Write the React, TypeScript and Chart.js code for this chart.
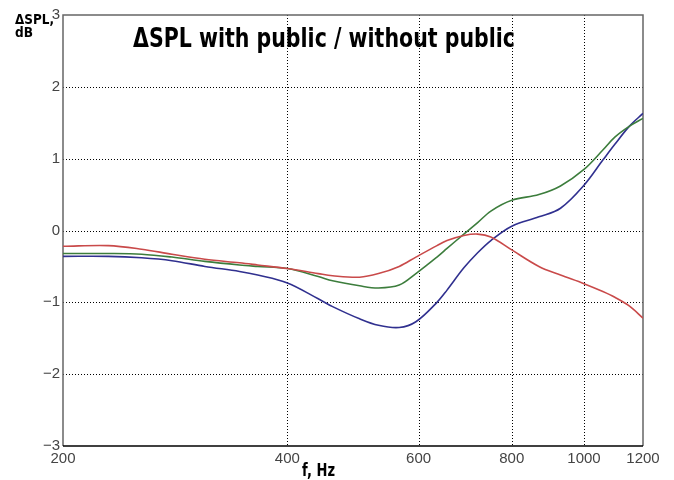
import React, { useEffect, useRef } from "react";
import { Chart, registerables } from "chart.js";

Chart.register(...registerables);

const freqs = [200, 230, 255, 280, 310, 345, 365, 400, 440, 460, 500, 530, 565, 595, 635, 655, 690, 720, 750, 800, 870, 930, 1000, 1060, 1100, 1150, 1200];
const blueValues = [-0.36, -0.36, -0.38, -0.42, -0.5, -0.57, -0.62, -0.73, -0.95, -1.06, -1.23, -1.32, -1.35, -1.27, -1.0, -0.83, -0.52, -0.31, -0.14, 0.06, 0.19, 0.31, 0.63, 0.98, 1.2, 1.45, 1.63];
const greenValues = [-0.32, -0.32, -0.33, -0.37, -0.43, -0.48, -0.5, -0.53, -0.64, -0.7, -0.77, -0.8, -0.76, -0.6, -0.37, -0.25, -0.05, 0.11, 0.27, 0.42, 0.5, 0.62, 0.85, 1.12, 1.3, 1.45, 1.56];
const redValues = [-0.22, -0.21, -0.26, -0.33, -0.4, -0.45, -0.48, -0.53, -0.6, -0.63, -0.65, -0.6, -0.5, -0.37, -0.21, -0.14, -0.07, -0.05, -0.09, -0.27, -0.5, -0.62, -0.74, -0.85, -0.93, -1.05, -1.22];
const xTicks = [200, 400, 600, 800, 1000, 1200];
const yTicks = [-3, -2, -1, 0, 1, 2, 3];

const titleText = "\u0394SPL with public / without public";
const yTitle1 = "\u0394SPL,";
const yTitle2 = "dB";
const xTitle = "f, Hz";

function fitText(ctx: CanvasRenderingContext2D, text: string, x: number, y: number, width: number, font: string) {
  ctx.save();
  ctx.font = font;
  ctx.fillStyle = "#000";
  ctx.textBaseline = "alphabetic";
  ctx.textAlign = "left";
  const w = ctx.measureText(text).width;
  ctx.translate(x, y);
  ctx.scale(width / w, 1);
  ctx.fillText(text, 0, 0);
  ctx.restore();
}

const decorPlugin = {
  id: "decor",
  beforeDatasetsDraw(chart: any) {
    const { ctx, chartArea } = chart;
    const xs = chart.scales.x;
    const ys = chart.scales.y;
    ctx.save();
    ctx.strokeStyle = "#000";
    ctx.lineWidth = 1;
    ctx.setLineDash([1, 2]);
    xTicks.slice(1, -1).forEach((v) => {
      const px = Math.round(xs.getPixelForValue(v)) + 0.5;
      ctx.beginPath();
      ctx.moveTo(px, chartArea.top);
      ctx.lineTo(px, chartArea.bottom);
      ctx.stroke();
    });
    yTicks.slice(1, -1).forEach((v) => {
      const py = Math.round(ys.getPixelForValue(v)) + 0.5;
      ctx.beginPath();
      ctx.moveTo(chartArea.left, py);
      ctx.lineTo(chartArea.right, py);
      ctx.stroke();
    });
    ctx.setLineDash([]);
    ctx.lineWidth = 1.5;
    ctx.strokeStyle = "#666";
    ctx.beginPath();
    ctx.moveTo(chartArea.left, chartArea.bottom);
    ctx.lineTo(chartArea.left, chartArea.top);
    ctx.lineTo(chartArea.right, chartArea.top);
    ctx.lineTo(chartArea.right, chartArea.bottom);
    ctx.stroke();
    ctx.strokeStyle = "#000";
    ctx.beginPath();
    ctx.moveTo(chartArea.left, chartArea.bottom);
    ctx.lineTo(chartArea.right, chartArea.bottom);
    ctx.stroke();
    ctx.restore();
  },
  afterDraw(chart: any) {
    const { ctx } = chart;
    const f = "'DejaVu Sans', 'Liberation Sans', sans-serif";
    fitText(ctx, titleText, 133, 47, 382, `bold 26px ${f}`);
    fitText(ctx, yTitle1, 15, 24, 39, `bold 14px ${f}`);
    fitText(ctx, yTitle2, 15, 37, 18, `bold 14px ${f}`);
    fitText(ctx, xTitle, 302, 476, 33, `bold 18px ${f}`);
  },
};

export default function App() {
  const ref = useRef<HTMLCanvasElement | null>(null);
  useEffect(() => {
    document.body.style.margin = "0";
    const canvas = ref.current!;
    const mk = (label: string, vals: number[], color: string) => ({
      label,
      data: freqs.map((f, i) => ({ x: f, y: vals[i] })),
      borderColor: color,
      backgroundColor: color,
      borderWidth: 1.6,
      pointRadius: 0,
      tension: 0.35,
      fill: false,
    });
    const chart = new Chart(canvas, {
      type: "line",
      data: {
        datasets: [
          mk("red", redValues, "#c94a4a"),
          mk("green", greenValues, "#3c7d3c"),
          mk("blue", blueValues, "#30308f"),
        ],
      },
      plugins: [decorPlugin],
      options: {
        animation: false,
        responsive: false,
        devicePixelRatio: 1,
        layout: { padding: { top: 15, right: 31, left: 0, bottom: 0 } },
        plugins: { legend: { display: false }, tooltip: { enabled: false }, title: { display: false } },
        scales: {
          x: {
            type: "logarithmic",
            min: 200,
            max: 1200,
            afterBuildTicks: (s: any) => {
              s.ticks = xTicks.map((v) => ({ value: v }));
            },
            afterFit: (s: any) => {
              s.height = 34;
            },
            grid: { display: false, drawTicks: false },
            border: { display: false },
            ticks: {
              autoSkip: false,
              maxRotation: 0,
              padding: 4,
              color: "#444",
              font: { family: "'Liberation Sans', Arial, sans-serif", size: 15 },
              callback: (v: any) => String(v),
            },
          },
          y: {
            type: "linear",
            min: -3,
            max: 3,
            afterBuildTicks: (s: any) => {
              s.ticks = yTicks.map((v) => ({ value: v }));
            },
            afterFit: (s: any) => {
              s.width = 63;
            },
            grid: { display: false, drawTicks: false },
            border: { display: false },
            ticks: {
              padding: 3,
              color: "#444",
              font: { family: "'Liberation Sans', Arial, sans-serif", size: 15 },
              callback: (v: any) => (v < 0 ? "\u2212" + String(-v) : String(v)),
            },
          },
        },
      },
    });
    return () => chart.destroy();
  }, []);
  return <canvas ref={ref} width={674} height={480} style={{ display: "block", width: 674, height: 480 }} />;
}
